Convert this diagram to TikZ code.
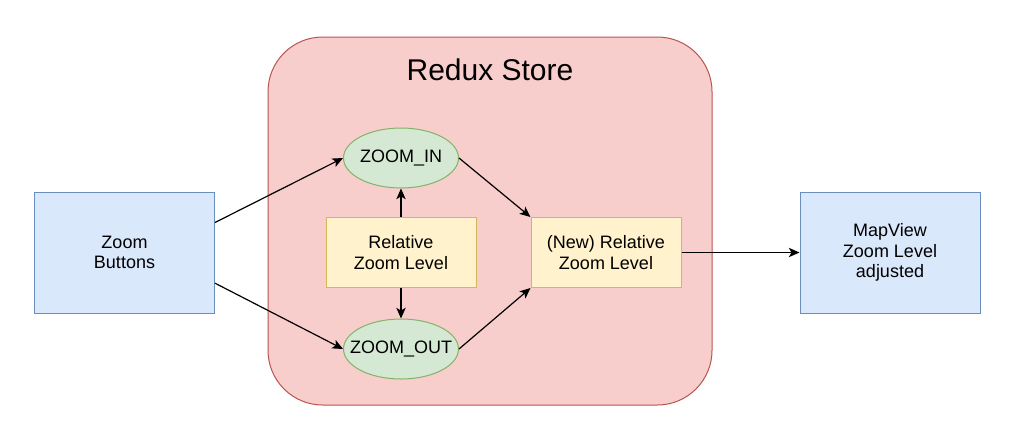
\documentclass[tikz,border=0pt]{standalone}
\usepackage{fontspec}
\setmainfont{Liberation Sans}
\usetikzlibrary{arrows.meta,positioning,shapes.geometric}
\definecolor{store-fill}{HTML}{F8CECC}
\definecolor{store-line}{HTML}{B85450}
\definecolor{ui-fill}{HTML}{DAE8FC}
\definecolor{ui-line}{HTML}{6C8EBF}
\definecolor{action-fill}{HTML}{D5E8D4}
\definecolor{action-line}{HTML}{82B366}
\definecolor{state-fill}{HTML}{FFF2CC}
\definecolor{state-line}{HTML}{D6B656}

\begin{document}
\begin{tikzpicture}[x=0.75pt, y=-0.75pt,
    font=\fontsize{13.5}{15.5}\selectfont,
    uibox/.style={draw=ui-line, fill=ui-fill, line width=0.75pt, align=center,
        minimum width=135pt, minimum height=90.75pt, inner sep=0pt},
    statebox/.style={draw=state-line, fill=state-fill, line width=0.75pt, align=center,
        minimum width=112.5pt, minimum height=52.5pt, inner sep=0pt},
    action/.style={ellipse, draw=action-line, fill=action-fill, line width=0.75pt,
        minimum width=86.25pt, minimum height=45pt, inner sep=0pt},
    flow/.style={-{Stealth[length=8pt, width=7pt, inset=2pt]}, line width=0.9pt}]
    \useasboundingbox (0,0) rectangle (1009,440);
    % store container
    \node[draw=store-line, fill=store-fill, line width=0.75pt, rounded corners=41pt,
        minimum width=333pt, minimum height=276pt] (store) at (490,221) {};
    \node[font=\fontsize{22.5}{27}\selectfont] (title) at (490,70) {Redux Store};
    % nodes
    \node[uibox] (buttons) at (124.5,252.5) {Zoom\\Buttons};
    \node[uibox] (mapview) at (890,252.5) {MapView\\Zoom Level\\adjusted};
    \node[action] (zoomin) at (401,158) {\makebox[0pt]{ZOOM\_IN}};
    \node[action] (zoomout) at (401,349) {\makebox[0pt]{ZOOM\_OUT}};
    \node[statebox] (rel) at (401,252.5) {Relative\\Zoom Level};
    \node[statebox] (newrel) at (606,252.5) {(New) Relative\\Zoom Level};
    % connectors
    \draw[flow] ([yshift=22.5pt]buttons.east) -- (zoomin.west);
    \draw[flow] ([yshift=-23pt]buttons.east) -- (zoomout.west);
    \draw[flow] (rel.north) -- (zoomin.south);
    \draw[flow] (rel.south) -- (zoomout.north);
    \draw[flow] (zoomin.east) -- (newrel.north west);
    \draw[flow] (zoomout.east) -- (newrel.south west);
    \draw[flow] (newrel.east) -- (mapview.west);
\end{tikzpicture}
\end{document}
